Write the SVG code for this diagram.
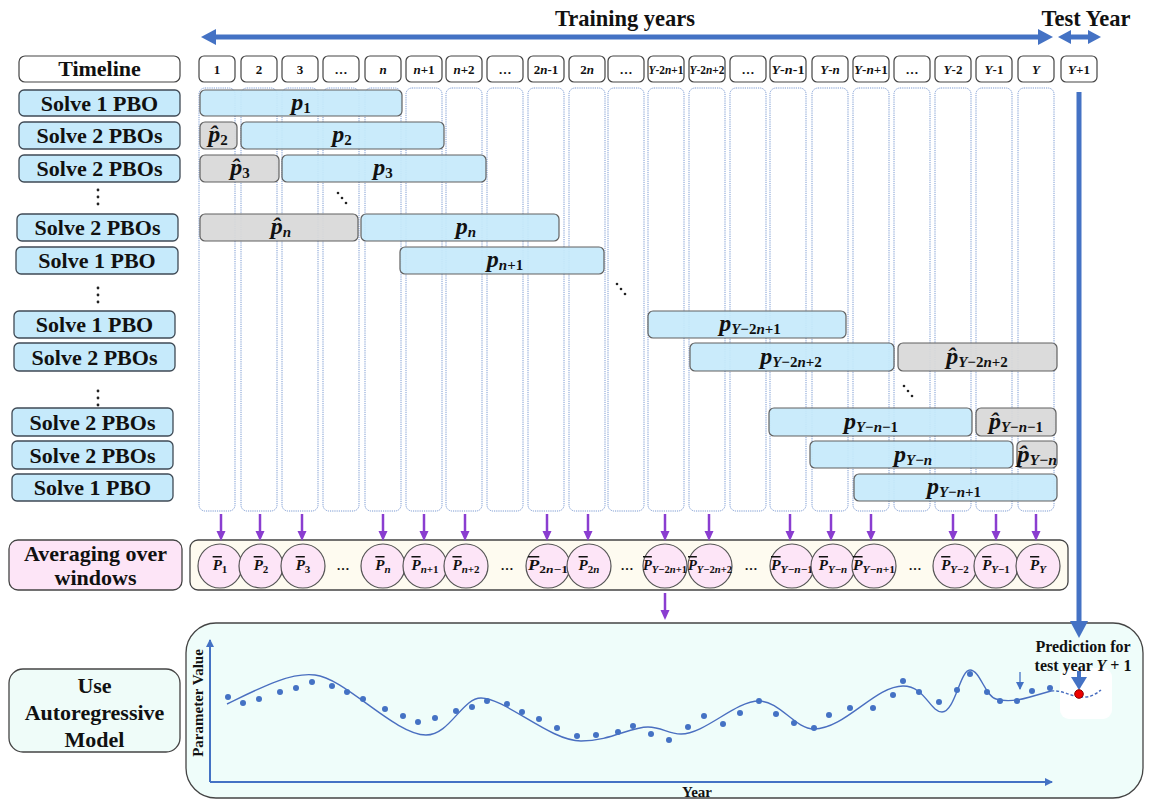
<svg xmlns="http://www.w3.org/2000/svg" width="1155" height="800" viewBox="0 0 1155 800">
  <style>
    text { font-family: "Liberation Serif", "Times New Roman", serif; fill: #111; }
    .title { font-size: 22.5px; font-weight: bold; text-anchor: middle; }
    .lbl { font-size: 22px; font-weight: bold; text-anchor: middle; }
    .yr { font-size: 13px; font-weight: bold; text-anchor: middle; }
    .yrs { font-size: 11.5px; font-weight: bold; text-anchor: middle; }
    .math { font-size: 24px; font-weight: bold; font-style: italic; text-anchor: middle; }
    .sub { font-size: 15px; font-weight: bold; font-style: normal; }
    .cm { font-size: 15px; font-weight: bold; font-style: italic; text-anchor: middle; }
    .csub { font-size: 11px; font-weight: bold; font-style: normal; }
    .it { font-style: italic; }
    .bar-p { text-decoration: overline; }
    .labelbox { fill: #c6eafb; stroke: #3f4a55; stroke-width: 1.3; }
    .yearbox { fill: #ffffff; stroke: #444; stroke-width: 1.2; }
    .bar { fill: #c6eafb; stroke: #555; stroke-width: 1.2; }
    .gbar { fill: #d9d9d9; stroke: #555; stroke-width: 1.2; }
    .col { fill: none; stroke: #6a8dcc; stroke-width: 0.9; stroke-dasharray: 1.2 1; }
    .circ { fill: #fde5f7; stroke: #555; stroke-width: 1.2; }
    .parr { stroke: #8a3dd0; stroke-width: 2.5; fill: none; }
    .dot { fill: #4472c4; }
  </style>
  <defs>
    <marker id="purpleHead" markerWidth="10" markerHeight="10" refX="5" refY="5" orient="auto" markerUnits="userSpaceOnUse">
      <path d="M0,0.5 L10,5 L0,9.5 z" fill="#8a3dd0"/>
    </marker>
    <marker id="thinBlue" markerWidth="8" markerHeight="8" refX="7" refY="4" orient="auto" markerUnits="userSpaceOnUse">
      <path d="M0,0 L8,4 L0,8 z" fill="#4472c4"/>
    </marker>
  </defs>

  <!-- header -->
  <g id="header">
    <text class="title" x="625" y="26">Training years</text>
    <text class="title" x="1086" y="26">Test Year</text>
  </g>

  <!-- dotted year columns -->
  <g id="columns">
    <rect class="col" x="199" y="88" width="36" height="423" rx="6"/>
    <rect class="col" x="241" y="88" width="36" height="423" rx="6"/>
    <rect class="col" x="282" y="88" width="36" height="423" rx="6"/>
    <rect class="col" x="323" y="88" width="36" height="423" rx="6"/>
    <rect class="col" x="365" y="88" width="36" height="423" rx="6"/>
    <rect class="col" x="406" y="88" width="36" height="423" rx="6"/>
    <rect class="col" x="446" y="88" width="36" height="423" rx="6"/>
    <rect class="col" x="487" y="88" width="36" height="423" rx="6"/>
    <rect class="col" x="528" y="88" width="36" height="423" rx="6"/>
    <rect class="col" x="569" y="88" width="36" height="423" rx="6"/>
    <rect class="col" x="608" y="88" width="36" height="423" rx="6"/>
    <rect class="col" x="648" y="88" width="36" height="423" rx="6"/>
    <rect class="col" x="689" y="88" width="36" height="423" rx="6"/>
    <rect class="col" x="730" y="88" width="36" height="423" rx="6"/>
    <rect class="col" x="770" y="88" width="36" height="423" rx="6"/>
    <rect class="col" x="812" y="88" width="36" height="423" rx="6"/>
    <rect class="col" x="853" y="88" width="36" height="423" rx="6"/>
    <rect class="col" x="894" y="88" width="36" height="423" rx="6"/>
    <rect class="col" x="935" y="88" width="36" height="423" rx="6"/>
    <rect class="col" x="976" y="88" width="36" height="423" rx="6"/>
    <rect class="col" x="1018" y="88" width="36" height="423" rx="6"/>
  </g>

  <!-- timeline row -->
  <g id="timeline">
    <rect class="yearbox" x="19" y="56" width="161" height="26" rx="6"/>
    <text class="lbl" x="99.5" y="76" font-size="21">Timeline</text>
    <rect class="yearbox" x="199" y="56" width="36" height="26" rx="5"/><text class="yr" x="217" y="74">1</text>
    <rect class="yearbox" x="241" y="56" width="36" height="26" rx="5"/><text class="yr" x="259" y="74">2</text>
    <rect class="yearbox" x="282" y="56" width="36" height="26" rx="5"/><text class="yr" x="300" y="74">3</text>
    <rect class="yearbox" x="323" y="56" width="36" height="26" rx="5"/><text class="yr" x="341" y="74">…</text>
    <rect class="yearbox" x="365" y="56" width="36" height="26" rx="5"/><text class="yr it" x="383" y="74">n</text>
    <rect class="yearbox" x="406" y="56" width="36" height="26" rx="5"/><text class="yr" x="424" y="74"><tspan class="it">n</tspan>+1</text>
    <rect class="yearbox" x="446" y="56" width="36" height="26" rx="5"/><text class="yr" x="464" y="74"><tspan class="it">n</tspan>+2</text>
    <rect class="yearbox" x="487" y="56" width="36" height="26" rx="5"/><text class="yr" x="505" y="74">…</text>
    <rect class="yearbox" x="528" y="56" width="36" height="26" rx="5"/><text class="yr" x="546" y="74">2<tspan class="it">n</tspan>-1</text>
    <rect class="yearbox" x="569" y="56" width="36" height="26" rx="5"/><text class="yr" x="587" y="74">2<tspan class="it">n</tspan></text>
    <rect class="yearbox" x="608" y="56" width="36" height="26" rx="5"/><text class="yr" x="626" y="74">…</text>
    <rect class="yearbox" x="648" y="56" width="36" height="26" rx="5"/><text class="yrs" x="666" y="74" textLength="35" lengthAdjust="spacingAndGlyphs"><tspan class="it">Y</tspan>-2<tspan class="it">n</tspan>+1</text>
    <rect class="yearbox" x="689" y="56" width="36" height="26" rx="5"/><text class="yrs" x="707" y="74" textLength="35" lengthAdjust="spacingAndGlyphs"><tspan class="it">Y</tspan>-2<tspan class="it">n</tspan>+2</text>
    <rect class="yearbox" x="730" y="56" width="36" height="26" rx="5"/><text class="yr" x="748" y="74">…</text>
    <rect class="yearbox" x="770" y="56" width="36" height="26" rx="5"/><text class="yr" x="788" y="74" textLength="33" lengthAdjust="spacingAndGlyphs"><tspan class="it">Y</tspan>-<tspan class="it">n</tspan>-1</text>
    <rect class="yearbox" x="812" y="56" width="36" height="26" rx="5"/><text class="yr" x="830" y="74"><tspan class="it">Y</tspan>-<tspan class="it">n</tspan></text>
    <rect class="yearbox" x="853" y="56" width="36" height="26" rx="5"/><text class="yrs" x="871" y="74" textLength="34" lengthAdjust="spacingAndGlyphs"><tspan class="it">Y</tspan>-<tspan class="it">n</tspan>+1</text>
    <rect class="yearbox" x="894" y="56" width="36" height="26" rx="5"/><text class="yr" x="912" y="74">…</text>
    <rect class="yearbox" x="935" y="56" width="36" height="26" rx="5"/><text class="yr" x="953" y="74"><tspan class="it">Y</tspan>-2</text>
    <rect class="yearbox" x="976" y="56" width="36" height="26" rx="5"/><text class="yr" x="994" y="74"><tspan class="it">Y</tspan>-1</text>
    <rect class="yearbox" x="1018" y="56" width="36" height="26" rx="5"/><text class="yr it" x="1036" y="74">Y</text>
    <rect class="yearbox" x="1061" y="56" width="36" height="26" rx="5"/><text class="yr" x="1079" y="74"><tspan class="it">Y</tspan>+1</text>
  </g>

  <!-- row labels -->
  <g id="row-labels">
    <rect class="labelbox" x="19" y="90" width="161" height="26" rx="5"/><text class="lbl" x="99.5" y="110.5">Solve 1 PBO</text>
    <rect class="labelbox" x="19" y="122" width="161" height="27" rx="5"/><text class="lbl" x="99.5" y="143">Solve 2 PBOs</text>
    <rect class="labelbox" x="19" y="155" width="161" height="27" rx="5"/><text class="lbl" x="99.5" y="176">Solve 2 PBOs</text>
    <rect class="labelbox" x="17" y="214" width="161" height="27" rx="5"/><text class="lbl" x="97.5" y="235">Solve 2 PBOs</text>
    <rect class="labelbox" x="16" y="247" width="162" height="27" rx="5"/><text class="lbl" x="97" y="268">Solve 1 PBO</text>
    <rect class="labelbox" x="14" y="311" width="161" height="27" rx="5"/><text class="lbl" x="94.5" y="332">Solve 1 PBO</text>
    <rect class="labelbox" x="14" y="343" width="161" height="28" rx="5"/><text class="lbl" x="94.5" y="365">Solve 2 PBOs</text>
    <rect class="labelbox" x="12" y="408" width="161" height="28" rx="5"/><text class="lbl" x="92.5" y="430">Solve 2 PBOs</text>
    <rect class="labelbox" x="12" y="441" width="161" height="28" rx="5"/><text class="lbl" x="92.5" y="463">Solve 2 PBOs</text>
    <rect class="labelbox" x="12" y="474" width="161" height="27" rx="5"/><text class="lbl" x="92.5" y="495">Solve 1 PBO</text>
    <!-- vertical ellipses -->
    <g fill="#222">
      <circle cx="98" cy="190" r="1.4"/><circle cx="98" cy="197" r="1.4"/><circle cx="98" cy="204" r="1.4"/>
      <circle cx="98" cy="288" r="1.4"/><circle cx="98" cy="295" r="1.4"/><circle cx="98" cy="302" r="1.4"/>
      <circle cx="98" cy="391" r="1.4"/><circle cx="98" cy="398" r="1.4"/><circle cx="98" cy="405" r="1.4"/>
    </g>
  </g>

  <!-- parameter windows -->
  <g id="windows" opacity="0.93">
    <rect class="bar" x="200" y="90" width="202" height="26" rx="5"/>
    <rect class="gbar" x="200" y="122" width="37" height="27" rx="5"/>
    <rect class="bar" x="241" y="122" width="203" height="27" rx="5"/>
    <rect class="gbar" x="200" y="155" width="79" height="27" rx="5"/>
    <rect class="bar" x="282" y="155" width="204" height="27" rx="5"/>
    <rect class="gbar" x="200" y="214" width="158" height="27" rx="5"/>
    <rect class="bar" x="361" y="214" width="198" height="27" rx="5"/>
    <rect class="bar" x="400" y="247" width="204" height="27" rx="5"/>
    <rect class="bar" x="648" y="311" width="198" height="27" rx="5"/>
    <rect class="bar" x="690" y="343" width="204" height="28" rx="5"/>
    <rect class="gbar" x="898" y="343" width="159" height="28" rx="5"/>
    <rect class="bar" x="769" y="408" width="203" height="28" rx="5"/>
    <rect class="gbar" x="976" y="408" width="80" height="28" rx="5"/>
    <rect class="bar" x="810" y="441" width="203" height="27" rx="5"/>
    <rect class="gbar" x="1017" y="441" width="40" height="27" rx="5"/>
    <rect class="bar" x="854" y="474" width="203" height="27" rx="5"/>
  </g>

  <g id="window-labels">
    <text class="math" x="301" y="110">p<tspan class="sub" dy="3">1</tspan></text>
    <text class="math" x="218" y="142">p̂<tspan class="sub" dy="3">2</tspan></text>
    <text class="math" x="342" y="142">p<tspan class="sub" dy="3">2</tspan></text>
    <text class="math" x="240" y="175">p̂<tspan class="sub" dy="3">3</tspan></text>
    <text class="math" x="383" y="175">p<tspan class="sub" dy="3">3</tspan></text>
    <text class="math" x="281" y="234">p̂<tspan class="sub it" dy="3">n</tspan></text>
    <text class="math" x="466" y="234">p<tspan class="sub it" dy="3">n</tspan></text>
    <text class="math" x="505" y="267">p<tspan class="sub" dy="3"><tspan class="it">n</tspan>+1</tspan></text>
    <text class="math" x="750" y="331">p<tspan class="sub" dy="3"><tspan class="it">Y</tspan>−2<tspan class="it">n</tspan>+1</tspan></text>
    <text class="math" x="791" y="364">p<tspan class="sub" dy="3"><tspan class="it">Y</tspan>−2<tspan class="it">n</tspan>+2</tspan></text>
    <text class="math" x="977" y="364">p̂<tspan class="sub" dy="3"><tspan class="it">Y</tspan>−2<tspan class="it">n</tspan>+2</tspan></text>
    <text class="math" x="871" y="429">p<tspan class="sub" dy="3"><tspan class="it">Y</tspan>−<tspan class="it">n</tspan>−1</tspan></text>
    <text class="math" x="1016" y="429">p̂<tspan class="sub" dy="3"><tspan class="it">Y</tspan>−<tspan class="it">n</tspan>−1</tspan></text>
    <text class="math" x="913" y="462">p<tspan class="sub" dy="3"><tspan class="it">Y</tspan>−<tspan class="it">n</tspan></tspan></text>
    <text class="math" x="1037" y="462" textLength="40" lengthAdjust="spacingAndGlyphs">p̂<tspan class="sub" dy="3"><tspan class="it">Y</tspan>−<tspan class="it">n</tspan></tspan></text>
    <text class="math" x="954" y="494">p<tspan class="sub" dy="3"><tspan class="it">Y</tspan>−<tspan class="it">n</tspan>+1</tspan></text>
    <!-- diagonal ellipses -->
    <g fill="#222">
      <circle cx="338" cy="193" r="1.3"/><circle cx="342" cy="198" r="1.3"/><circle cx="346" cy="203" r="1.3"/>
      <circle cx="617" cy="284" r="1.3"/><circle cx="621" cy="289" r="1.3"/><circle cx="625" cy="294" r="1.3"/>
      <circle cx="904" cy="386" r="1.3"/><circle cx="908" cy="391" r="1.3"/><circle cx="912" cy="396" r="1.3"/>
    </g>
  </g>

  <!-- averaging row -->
  <g id="averaging">
    <rect x="9" y="540" width="173" height="50" rx="9" fill="#fde5f7" stroke="#444" stroke-width="1.3"/>
    <text class="lbl" x="95.5" y="561" font-size="21">Averaging over</text>
    <text class="lbl" x="95.5" y="585" font-size="21">windows</text>
    <rect x="190" y="540" width="878" height="50" rx="8" fill="#fefbf0" stroke="#444" stroke-width="1.3"/>
    <g id="averages">
      <circle class="circ" cx="220" cy="566" r="22"/><text class="cm" x="220" y="570"><tspan class="bar-p">P</tspan><tspan class="csub" dy="3">1</tspan></text>
      <circle class="circ" cx="261" cy="566" r="22"/><text class="cm" x="261" y="570"><tspan class="bar-p">P</tspan><tspan class="csub" dy="3">2</tspan></text>
      <circle class="circ" cx="303" cy="566" r="22"/><text class="cm" x="303" y="570"><tspan class="bar-p">P</tspan><tspan class="csub" dy="3">3</tspan></text>
      <text class="yr" x="343" y="570" font-size="15">…</text>
      <circle class="circ" cx="383" cy="566" r="22"/><text class="cm" x="383" y="570"><tspan class="bar-p">P</tspan><tspan class="csub it" dy="3">n</tspan></text>
      <circle class="circ" cx="425" cy="566" r="22"/><text class="cm" x="425" y="570"><tspan class="bar-p">P</tspan><tspan class="csub" dy="3"><tspan class="it">n</tspan>+1</tspan></text>
      <circle class="circ" cx="466" cy="566" r="22"/><text class="cm" x="466" y="570"><tspan class="bar-p">P</tspan><tspan class="csub" dy="3"><tspan class="it">n</tspan>+2</tspan></text>
      <text class="yr" x="507" y="570" font-size="15">…</text>
      <circle class="circ" cx="548" cy="566" r="22"/><text class="cm" x="548" y="570" textLength="40" lengthAdjust="spacingAndGlyphs"><tspan class="bar-p">P</tspan><tspan class="csub" dy="3">2<tspan class="it">n</tspan>−1</tspan></text>
      <circle class="circ" cx="589" cy="566" r="22"/><text class="cm" x="589" y="570"><tspan class="bar-p">P</tspan><tspan class="csub" dy="3">2<tspan class="it">n</tspan></tspan></text>
      <text class="yr" x="627" y="570" font-size="15">…</text>
      <circle class="circ" cx="665" cy="566" r="22"/><text class="cm" x="665" y="570" textLength="44" lengthAdjust="spacingAndGlyphs"><tspan class="bar-p">P</tspan><tspan class="csub" dy="3"><tspan class="it">Y</tspan>−2<tspan class="it">n</tspan>+1</tspan></text>
      <circle class="circ" cx="710" cy="566" r="22"/><text class="cm" x="710" y="570" textLength="44" lengthAdjust="spacingAndGlyphs"><tspan class="bar-p">P</tspan><tspan class="csub" dy="3"><tspan class="it">Y</tspan>−2<tspan class="it">n</tspan>+2</tspan></text>
      <text class="yr" x="751" y="570" font-size="15">…</text>
      <circle class="circ" cx="792" cy="566" r="22"/><text class="cm" x="792" y="570" textLength="42" lengthAdjust="spacingAndGlyphs"><tspan class="bar-p">P</tspan><tspan class="csub" dy="3"><tspan class="it">Y</tspan>−<tspan class="it">n</tspan>−1</tspan></text>
      <circle class="circ" cx="833" cy="566" r="22"/><text class="cm" x="833" y="570"><tspan class="bar-p">P</tspan><tspan class="csub" dy="3"><tspan class="it">Y</tspan>−<tspan class="it">n</tspan></tspan></text>
      <circle class="circ" cx="874" cy="566" r="22"/><text class="cm" x="874" y="570" textLength="42" lengthAdjust="spacingAndGlyphs"><tspan class="bar-p">P</tspan><tspan class="csub" dy="3"><tspan class="it">Y</tspan>−<tspan class="it">n</tspan>+1</tspan></text>
      <text class="yr" x="915" y="570" font-size="15">…</text>
      <circle class="circ" cx="955" cy="566" r="22"/><text class="cm" x="955" y="570"><tspan class="bar-p">P</tspan><tspan class="csub" dy="3"><tspan class="it">Y</tspan>−2</tspan></text>
      <circle class="circ" cx="996" cy="566" r="22"/><text class="cm" x="996" y="570"><tspan class="bar-p">P</tspan><tspan class="csub" dy="3"><tspan class="it">Y</tspan>−1</tspan></text>
      <circle class="circ" cx="1038" cy="566" r="22"/><text class="cm" x="1038" y="570"><tspan class="bar-p">P</tspan><tspan class="csub it" dy="3">Y</tspan></text>
    </g>
  </g>

  <!-- autoregressive model -->
  <g id="model">
    <rect x="9" y="669" width="171" height="83" rx="14" fill="#effcf9" stroke="#444" stroke-width="1.3"/>
    <text class="lbl" x="94.5" y="693">Use</text>
    <text class="lbl" x="94.5" y="720">Autoregressive</text>
    <text class="lbl" x="94.5" y="747">Model</text>
  </g>

  <g id="chart">
    <rect x="186" y="623" width="957" height="175" rx="30" fill="#effdfa" stroke="#444" stroke-width="1.3"/>
    <rect x="1060" y="668" width="52" height="51" rx="9" fill="#ffffff"/>
    <!-- axes -->
    <line x1="210" y1="782" x2="210" y2="640" stroke="#4472c4" stroke-width="2" marker-end="url(#thinBlue)"/>
    <line x1="210" y1="782" x2="1052" y2="782" stroke="#4472c4" stroke-width="2" marker-end="url(#thinBlue)"/>
    <text x="203" y="703" font-size="15" font-weight="bold" text-anchor="middle" transform="rotate(-90 203 703)">Parameter Value</text>
    <text x="697" y="797" font-size="15" font-weight="bold" text-anchor="middle">Year</text>
    <!-- fitted curve -->
    <path d="M227,704 C260,688 290,672 315,675 C345,678 395,735 426,735 C450,735 462,698 481,698 C505,698 550,741 581,741 C610,741 630,727 648,727 C662,727 668,734 681,734 C705,734 735,701 759,701 C780,701 795,729 814,729 C845,729 875,686 903,686 C925,686 930,712 942,712 C955,712 960,670 970,670 C980,670 985,696 996,699 C1006,702 1020,700 1030,697 L1051,691" fill="none" stroke="#4a6fc0" stroke-width="1.4"/>
    <path d="M1051,691 C1065,690 1072,698 1085,697 C1092,697 1097,693 1101,690" fill="none" stroke="#4a6fc0" stroke-width="1.4" stroke-dasharray="3 2"/>
    <!-- observed values -->
    <g class="dot">
      <circle cx="228" cy="697" r="3"/><circle cx="243" cy="703" r="3"/><circle cx="259" cy="699" r="3"/>
      <circle cx="280" cy="692" r="3"/><circle cx="296" cy="688" r="3"/><circle cx="312" cy="682" r="3"/>
      <circle cx="332" cy="686" r="3"/><circle cx="347" cy="692" r="3"/><circle cx="363" cy="699" r="3"/>
      <circle cx="385" cy="709" r="3"/><circle cx="403" cy="716" r="3"/><circle cx="418" cy="722" r="3"/>
      <circle cx="435" cy="718" r="3"/><circle cx="456" cy="711" r="3"/><circle cx="472" cy="707" r="3"/>
      <circle cx="487" cy="701" r="3"/><circle cx="507" cy="704" r="3"/><circle cx="522" cy="712" r="3"/>
      <circle cx="539" cy="719" r="3"/><circle cx="557" cy="728" r="3"/><circle cx="577" cy="736" r="3"/>
      <circle cx="596" cy="735" r="3"/><circle cx="618" cy="732" r="3"/><circle cx="633" cy="726" r="3"/>
      <circle cx="651" cy="734" r="3"/><circle cx="669" cy="740" r="3"/><circle cx="688" cy="727" r="3"/>
      <circle cx="704" cy="716" r="3"/><circle cx="723" cy="724" r="3"/><circle cx="740" cy="713" r="3"/>
      <circle cx="759" cy="701" r="3"/><circle cx="776" cy="714" r="3"/><circle cx="794" cy="723" r="3"/>
      <circle cx="814" cy="728" r="3"/><circle cx="829" cy="715" r="3"/><circle cx="850" cy="708" r="3"/>
      <circle cx="873" cy="708" r="3"/><circle cx="893" cy="695" r="3"/><circle cx="903" cy="681" r="3"/>
      <circle cx="919" cy="692" r="3"/><circle cx="939" cy="702" r="3"/><circle cx="957" cy="690" r="3"/>
      <circle cx="970" cy="674" r="3"/><circle cx="987" cy="692" r="3"/><circle cx="1000" cy="701" r="3"/>
      <circle cx="1017" cy="701" r="3"/><circle cx="1032" cy="691" r="3"/><circle cx="1050" cy="688" r="3"/>
    </g>
    <line x1="1020" y1="672" x2="1020" y2="689" stroke="#4472c4" stroke-width="1.3" marker-end="url(#thinBlue)"/>
    <!-- prediction -->
    <text x="1083" y="652" font-size="16" font-weight="bold" text-anchor="middle">Prediction for</text>
    <text x="1083" y="671" font-size="16" font-weight="bold" text-anchor="middle">test year <tspan font-style="italic">Y</tspan> + 1</text>
    <line x1="1079" y1="671" x2="1079" y2="680" stroke="#4472c4" stroke-width="4"/>
    <polygon points="1079,690 1071,677 1087,677" fill="#4472c4"/>
    <circle cx="1079" cy="694" r="4.3" fill="#ee0000" stroke="#8a0000" stroke-width="1"/>
  </g>

  <!-- connectors -->
  <g id="connectors">
    <!-- training years span -->
    <line x1="212" y1="37" x2="1041" y2="37" stroke="#4472c4" stroke-width="5"/>
    <polygon points="201,37 216,29 216,45" fill="#4472c4"/>
    <polygon points="1053,37 1038,29 1038,45" fill="#4472c4"/>
    <!-- test year span -->
    <line x1="1066" y1="37" x2="1092" y2="37" stroke="#4472c4" stroke-width="5"/>
    <polygon points="1058,37 1071,30 1071,44" fill="#4472c4"/>
    <polygon points="1101,37 1088,30 1088,44" fill="#4472c4"/>
    <!-- test year down to prediction -->
    <line x1="1079" y1="92" x2="1079" y2="624" stroke="#4472c4" stroke-width="5"/>
    <polygon points="1079,638 1070,621 1088,621" fill="#4472c4"/>
    <!-- windows to averages -->
    <g class="parr" marker-end="url(#purpleHead)">
      <line x1="221" y1="514" x2="221" y2="536"/>
      <line x1="260" y1="514" x2="260" y2="536"/>
      <line x1="302" y1="514" x2="302" y2="536"/>
      <line x1="383" y1="514" x2="383" y2="536"/>
      <line x1="424" y1="514" x2="424" y2="536"/>
      <line x1="465" y1="514" x2="465" y2="536"/>
      <line x1="547" y1="514" x2="547" y2="536"/>
      <line x1="588" y1="514" x2="588" y2="536"/>
      <line x1="665" y1="514" x2="665" y2="536"/>
      <line x1="709" y1="514" x2="709" y2="536"/>
      <line x1="790" y1="514" x2="790" y2="536"/>
      <line x1="831" y1="514" x2="831" y2="536"/>
      <line x1="871" y1="514" x2="871" y2="536"/>
      <line x1="953" y1="514" x2="953" y2="536"/>
      <line x1="996" y1="514" x2="996" y2="536"/>
      <line x1="1036" y1="514" x2="1036" y2="536"/>
      <!-- averages to model -->
      <line x1="665" y1="593" x2="665" y2="615"/>
    </g>
  </g>
</svg>
